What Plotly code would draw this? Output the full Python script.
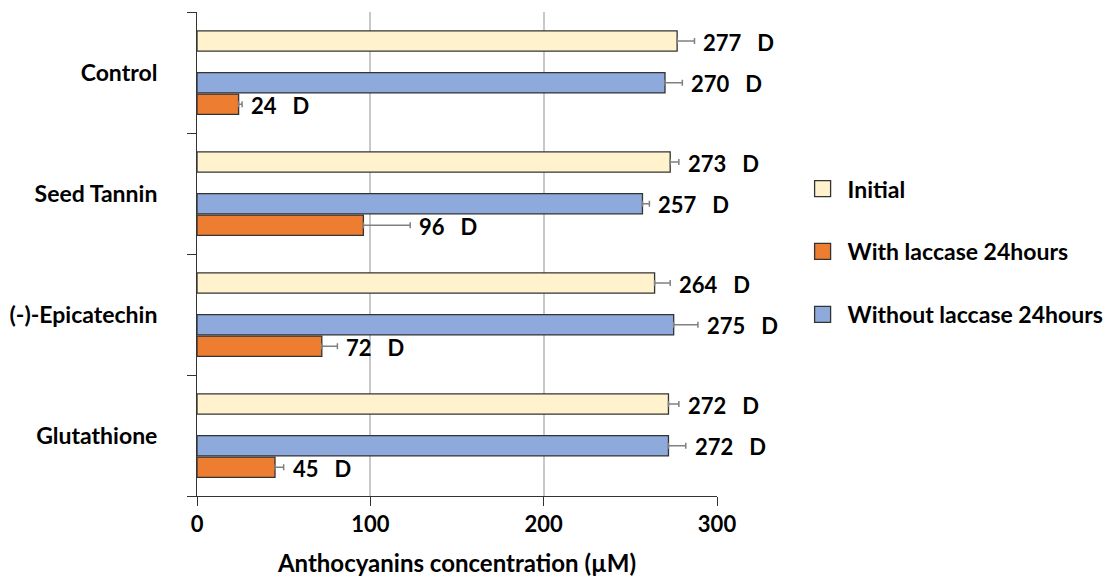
import plotly.graph_objects as go

categories = ["Control", "Seed Tannin", "(-)-Epicatechin", "Glutathione"]
initial = [277, 273, 264, 272]
without_laccase = [270, 257, 275, 272]
with_laccase = [24, 96, 72, 45]
err_initial = [10, 5, 9, 6]
err_without = [10, 4, 14, 10]
err_with = [2, 27, 9, 5]
letters_initial = ["D", "D", "D", "D"]
letters_without = ["D", "D", "D", "D"]
letters_with = ["D", "D", "D", "D"]
x_ticks = [0, 100, 200, 300]

FONT = "Lato"
NB = "\u00a0"
pos = list(range(len(categories)))
boundaries = [p - 0.5 for p in pos] + [pos[-1] + 0.5]

series = [
    # name, values, errors, letters, colour, offset
    ("Initial", initial, err_initial, letters_initial, "#FFF2CC", -0.26),
    ("Without laccase 24hours", without_laccase, err_without, letters_without, "#8EA9DB", 0.085),
    ("With laccase 24hours", with_laccase, err_with, letters_with, "#ED7D31", 0.262),
]

fig = go.Figure()
annotations = []
for name, vals, errs, lets, col, off in series:
    ys = [p + off for p in pos]
    fig.add_trace(go.Bar(
        x=vals, y=ys, orientation="h", width=0.168, name=name,
        marker=dict(color=col, line=dict(color="#333333", width=1.3)),
        error_x=dict(type="data", array=errs, symmetric=False, arrayminus=[0]*len(errs),
                     color="#808080", thickness=1.5, width=3),
        showlegend=False,
    ))
    for v, e, l, y in zip(vals, errs, lets, ys):
        annotations.append(dict(
            x=v + e, y=y, xref="x", yref="y", text=f"{v}{NB*3}{l}",
            showarrow=False, xanchor="left", yanchor="middle", xshift=7, yshift=-1,
            font=dict(family=FONT, size=22, color="black", weight="bold"),
        ))

legend_order = [("Initial", "#FFF2CC"), ("With laccase 24hours", "#ED7D31"),
                ("Without laccase 24hours", "#8EA9DB")]
for i, (name, col) in enumerate(legend_order):
    fig.add_trace(go.Scatter(
        x=[None], y=[None], mode="markers", name=name, legendgroup=f"g{i}",
        marker=dict(symbol="square", size=16, color=col, line=dict(color="#333333", width=1.3)),
    ))
# invisible trace on a second y axis that carries the category-boundary ticks
fig.add_trace(go.Scatter(x=[None], y=[None], yaxis="y2", showlegend=False, hoverinfo="skip"))

fig.update_layout(
    width=1110, height=569,
    margin=dict(l=189, r=401, t=4, b=81, autoexpand=False),
    plot_bgcolor="white", paper_bgcolor="white",
    barmode="overlay",
    font=dict(family=FONT, size=22, color="black"),
    annotations=annotations,
    legend=dict(x=1.155, y=0.505, xanchor="left", yanchor="middle",
                tracegroupgap=30, itemwidth=40,
                font=dict(family=FONT, size=23, color="black", weight="bold")),
    xaxis=dict(
        range=[0, 300], tickvals=x_ticks, showgrid=True, gridcolor="#C8C8C8", gridwidth=1.5,
        zeroline=False, showline=True, linecolor="#333333", linewidth=1,
        ticks="outside", ticklen=9, tickcolor="#333333",
        tickfont=dict(family=FONT, size=22, color="black", weight="bold"),
        ticklabelstandoff=0, automargin=False,
        title=dict(text="Anthocyanins concentration (µM)", standoff=24,
                   font=dict(family=FONT, size=24, color="black", weight="bold")),
    ),
    yaxis=dict(
        range=[3.5, -0.5], tickvals=pos, ticktext=categories, ticks="",
        showgrid=False, zeroline=False, showline=True, linecolor="#333333", linewidth=1,
        tickfont=dict(family=FONT, size=23, color="black", weight="bold"),
        ticklabelstandoff=34, automargin=False,
    ),
    yaxis2=dict(
        overlaying="y", side="left", range=[3.5, -0.5], tickvals=boundaries,
        ticktext=[""] * len(boundaries), ticks="outside", ticklen=9, tickcolor="#333333",
        tickwidth=1, showgrid=False, zeroline=False, showline=False, automargin=False,
    ),
)

fig.write_html("out.html")
